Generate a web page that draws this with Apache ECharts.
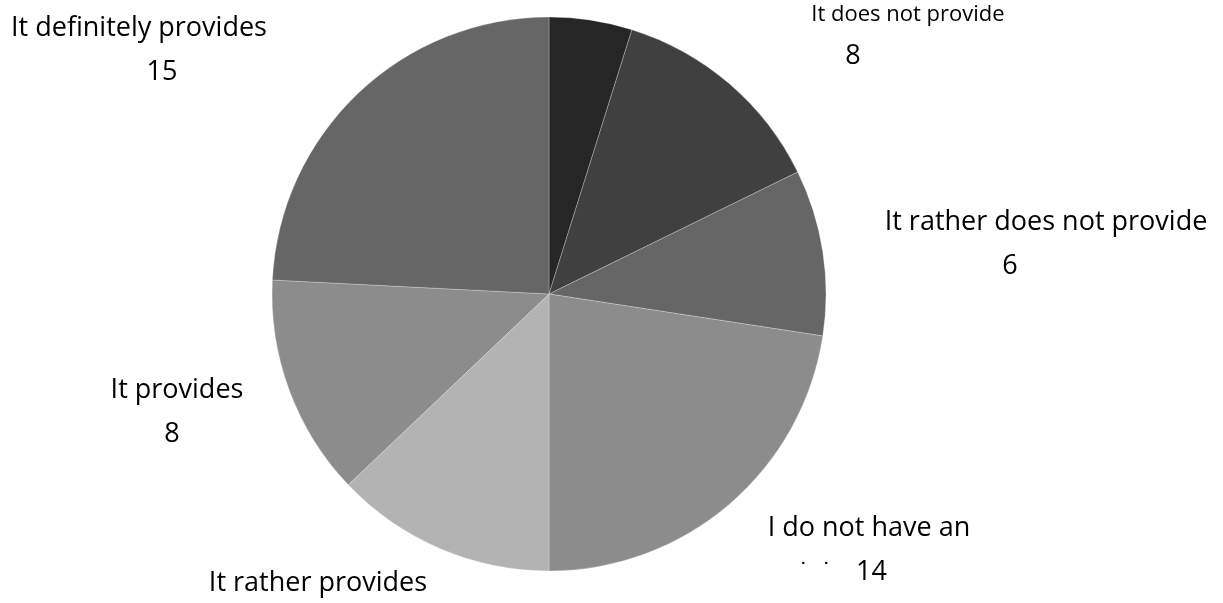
<!DOCTYPE html>
<html>
<head>
<meta charset="utf-8">
<script src="https://cdn.jsdelivr.net/npm/echarts@6/dist/echarts.min.js"></script>
<style>
html,body{margin:0;padding:0;background:#fff;}
#chart{width:1223px;height:603px;}
</style>
</head>
<body>
<div id="chart"></div>
<script>
const categories = [
  'It definitely does not provide',
  'It does not provide',
  'It rather does not provide',
  'I do not have an',
  'It rather provides',
  'It provides',
  'It definitely provides'
];
const values = [3, 8, 6, 14, 8, 8, 15];
const sliceColors = ['#262626', '#404040', '#666666', '#8c8c8c', '#b3b3b3', '#8c8c8c', '#666666'];
const showLabel = [false, true, true, true, true, true, true];

// label layout only (block centres, font sizes, value-line shift)
const labelCenters = [
  null,
  [908, 36],
  [1046, 244],
  [869, 550],
  [318, 605],
  [177, 412],
  [139, 50]
];
const nameFontSizes = [27, 22, 27, 27, 27, 27, 27];
const nameLineHeights = [44, 40, 44, 44, 44, 44, 44];
const valueShift = [0, -55, -36, 0, 0, -5, 23];

const chart = echarts.init(document.getElementById('chart'), null, {renderer: 'canvas'});

const data = categories.map((name, i) => {
  const s = valueShift[i];
  const vPad = i === 3 ? [0, 59, 0, 0] : (s >= 0 ? [0, 0, 0, 2 * s] : [0, -2 * s, 0, 0]);
  return {
    name: name,
    value: values[i],
    itemStyle: {color: sliceColors[i]},
    label: {
      show: showLabel[i],
      rich: {
        n: {fontSize: nameFontSizes[i], lineHeight: nameLineHeights[i], fontFamily: 'Open Sans', color: '#000'},
        v: {fontSize: 27, lineHeight: i === 1 ? 42 : 44, fontFamily: 'Open Sans', color: '#000', padding: vPad},
        d1: {fontSize: 22, lineHeight: 44, fontFamily: 'DejaVu Sans', color: '#000', align: 'left', padding: [0, 0, 0, 30]},
        d2: {fontSize: 22, lineHeight: 44, fontFamily: 'DejaVu Sans', color: '#000', align: 'left', padding: [0, 0, 0, 12]}
      }
    }
  };
});

chart.setOption({
  animation: false,
  backgroundColor: '#ffffff',
  series: [{
    type: 'pie',
    center: [549, 294],
    radius: 277,
    startAngle: 90,
    clockwise: true,
    avoidLabelOverlap: false,
    itemStyle: {borderColor: 'rgba(255,255,255,0.25)', borderWidth: 1},
    label: {
      show: true,
      position: 'outside',
      color: '#000000',
      fontFamily: 'Open Sans',
      align: 'center',
      formatter: function (p) {
        if (p.dataIndex === 3) {
          return '{n|' + p.name + '}\n{d1|˙}{d2|˙}{v|' + p.value + '}';
        }
        return '{n|' + p.name + '}\n{v|' + p.value + '}';
      }
    },
    labelLine: {show: false},
    labelLayout: function (params) {
      const c = labelCenters[params.dataIndex];
      if (!c) return {};
      return {x: c[0], y: c[1], align: 'center', verticalAlign: 'middle'};
    },
    emphasis: {disabled: true},
    data: data
  }]
});
</script>
</body>
</html>
